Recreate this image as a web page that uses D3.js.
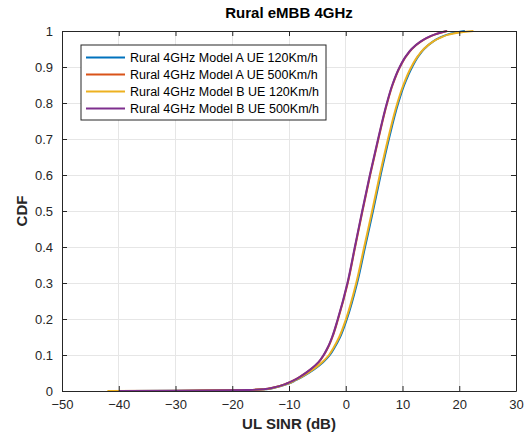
<!DOCTYPE html>
<html><head><meta charset="utf-8">
<script src="https://cdn.jsdelivr.net/npm/d3@7"></script>
<style>body{margin:0;background:#fff;}svg{display:block;}</style>
</head><body>
<script>
// ---- data ----
const title = "Rural eMBB 4GHz";
const xLabel = "UL SINR (dB)";
const yLabel = "CDF";
const xTicks = [-50, -40, -30, -20, -10, 0, 10, 20, 30];
const yTicks = [0, 0.1, 0.2, 0.3, 0.4, 0.5, 0.6, 0.7, 0.8, 0.9, 1];
const seriesNames = [
  "Rural 4GHz Model A UE 120Km/h",
  "Rural 4GHz Model A UE 500Km/h",
  "Rural 4GHz Model B UE 120Km/h",
  "Rural 4GHz Model B UE 500Km/h"
];
const seriesColors = ["#0072BD", "#D95319", "#EDB120", "#7E2F8E"];
// CDF levels and SINR (dB) at each level, per series
const cdfLevels = [0, 0.001, 0.002, 0.003, 0.005, 0.01, 0.02, 0.03, 0.04, 0.06, 0.08, 0.1, 0.12, 0.15, 0.2, 0.3, 0.4, 0.5, 0.6, 0.7, 0.8, 0.85, 0.9, 0.93, 0.95, 0.97, 0.98, 0.99, 0.995, 1];
const sinrA120 = [-38, -28, -20, -16, -14, -12.4, -10.2, -8.8, -7.6, -5.6, -4.0, -2.8, -2.0, -1.0, 0.2, 2.0, 3.4, 4.8, 6.15, 7.6, 9.25, 10.3, 11.7, 12.8, 13.8, 15.3, 16.4, 17.9, 19.2, 21.0];
const sinrA500 = [-33, -27, -21, -17, -14.5, -12.7, -10.5, -9.1, -8.0, -6.15, -4.75, -3.85, -3.15, -2.35, -1.35, 0.35, 1.65, 2.95, 4.3, 5.75, 7.3, 8.25, 9.55, 10.65, 11.65, 13.15, 14.25, 15.65, 16.7, 17.9];
const sinrB120 = [-42, -29, -21, -16.5, -14.2, -12.5, -10.3, -8.9, -7.7, -5.75, -4.15, -2.95, -2.15, -1.15, 0.05, 1.85, 3.25, 4.65, 6.0, 7.45, 9.1, 10.15, 11.55, 12.7, 13.75, 15.3, 16.5, 18.1, 19.7, 22.5];
const sinrB500 = [-40, -30, -22, -17, -14.5, -12.7, -10.5, -9.1, -8.0, -6.2, -4.8, -3.9, -3.2, -2.4, -1.4, 0.3, 1.6, 2.9, 4.25, 5.7, 7.25, 8.2, 9.5, 10.6, 11.6, 13.1, 14.2, 15.6, 16.6, 17.8];
const seriesValues = [sinrA120, sinrA500, sinrB120, sinrB500];

// ---- layout ----
const W = 530, H = 432;
const m = {left: 62, right: 14, top: 31, bottom: 41};
const iw = W - m.left - m.right, ih = H - m.top - m.bottom;
const axisCol = "#262626", gridCol = "#e6e6e6";
const fontFam = "'Liberation Sans', Arial, Helvetica, sans-serif";

const svg = d3.select("body").append("svg").attr("width", W).attr("height", H)
  .style("font-family", fontFam);
const g = svg.append("g").attr("transform", `translate(${m.left},${m.top})`);

const x = d3.scaleLinear().domain([-50, 30]).range([0, iw]);
const y = d3.scaleLinear().domain([0, 1]).range([ih, 0]);

// grid
g.append("g").selectAll("line").data(xTicks).join("line")
  .attr("x1", d => x(d)).attr("x2", d => x(d)).attr("y1", 0).attr("y2", ih)
  .attr("stroke", gridCol).attr("stroke-width", 1).attr("shape-rendering", "crispEdges");
g.append("g").selectAll("line").data(yTicks).join("line")
  .attr("y1", d => y(d)).attr("y2", d => y(d)).attr("x1", 0).attr("x2", iw)
  .attr("stroke", gridCol).attr("stroke-width", 1).attr("shape-rendering", "crispEdges");

// lines
const line = d3.line().x(d => x(d[0])).y(d => y(d[1])).curve(d3.curveMonotoneY);
seriesValues.forEach((vals, i) => {
  const pts = vals.map((v, j) => [v, cdfLevels[j]]);
  g.append("path").datum(pts).attr("d", line).attr("fill", "none")
    .attr("stroke", seriesColors[i]).attr("stroke-width", 2).attr("stroke-linejoin", "round");
});

// axes (MATLAB style: inward ticks on all four sides)
const tickLen = -5;
const fmt = d => d3.format("")(d);
const axB = g.append("g").attr("transform", `translate(0,${ih})`)
  .call(d3.axisBottom(x).tickValues(xTicks).tickSizeInner(tickLen).tickSizeOuter(0).tickPadding(9).tickFormat(fmt));
const axT = g.append("g")
  .call(d3.axisTop(x).tickValues(xTicks).tickSizeInner(tickLen).tickSizeOuter(0).tickFormat(""));
const axL = g.append("g")
  .call(d3.axisLeft(y).tickValues(yTicks).tickSizeInner(tickLen).tickSizeOuter(0).tickPadding(9).tickFormat(fmt));
const axR = g.append("g").attr("transform", `translate(${iw},0)`)
  .call(d3.axisRight(y).tickValues(yTicks).tickSizeInner(tickLen).tickSizeOuter(0).tickFormat(""));
[axB, axT, axL, axR].forEach(a => {
  a.selectAll("path").attr("stroke", axisCol).attr("stroke-width", 1);
  a.selectAll("line").attr("stroke", axisCol).attr("stroke-width", 1);
  a.selectAll("text").attr("fill", axisCol).style("font-size", "13px").style("font-family", fontFam);
});

// title and axis labels
svg.append("text").attr("x", m.left + iw / 2).attr("y", 18).attr("text-anchor", "middle")
  .style("font-size", "15px").style("font-weight", "bold").attr("fill", "#000").text(title);
svg.append("text").attr("x", m.left + iw / 2).attr("y", 429).attr("text-anchor", "middle")
  .style("font-size", "15px").style("font-weight", "bold").attr("fill", axisCol).text(xLabel);
svg.append("text").attr("transform", `translate(27,${m.top + ih / 2}) rotate(-90)`).attr("text-anchor", "middle")
  .style("font-size", "15px").style("font-weight", "bold").attr("fill", axisCol).text(yLabel);

// legend
const lg = svg.append("g").attr("transform", "translate(81,45)");
lg.append("rect").attr("width", 245).attr("height", 75).attr("fill", "#fff")
  .attr("stroke", axisCol).attr("stroke-width", 1);
seriesNames.forEach((name, i) => {
  const cy = 12.5 + i * 17;
  lg.append("line").attr("x1", 5).attr("x2", 44).attr("y1", cy).attr("y2", cy)
    .attr("stroke", seriesColors[i]).attr("stroke-width", 2);
  lg.append("text").attr("x", 49).attr("y", cy).attr("dy", "0.35em")
    .style("font-size", "12.5px").attr("fill", "#000").text(name);
});
</script>
</body></html>
